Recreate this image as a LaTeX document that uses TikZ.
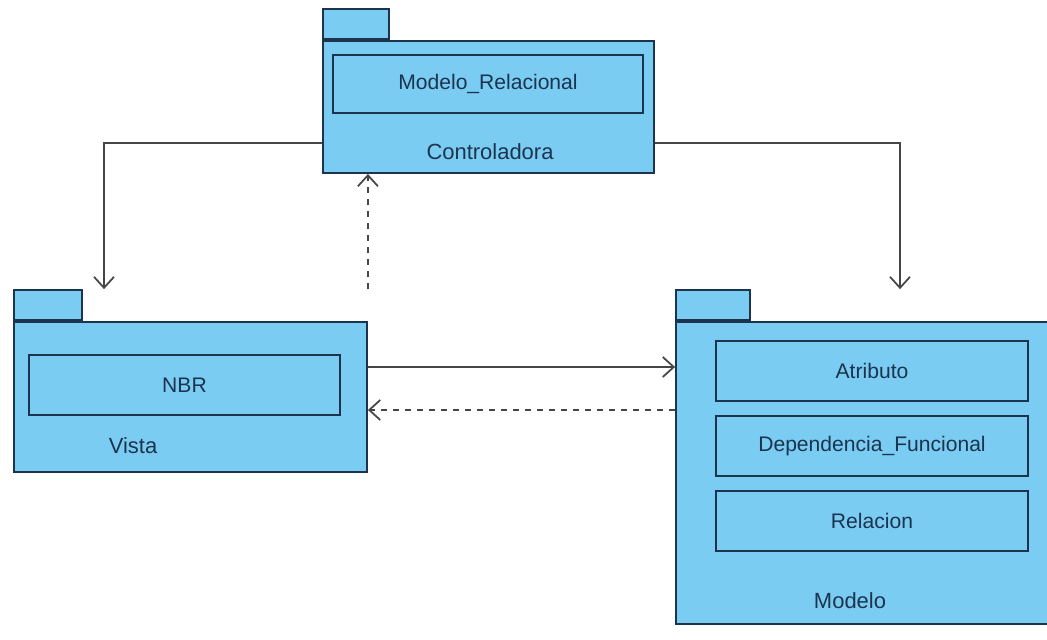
\documentclass[tikz,border=0pt]{standalone}
\usepackage{fontspec}
\setmainfont{Liberation Sans}
\usepackage{tikz}
\usetikzlibrary{arrows.meta}
\definecolor{pkgblue}{RGB}{122,204,242}
\definecolor{pkgline}{RGB}{28,52,78}
\definecolor{linkgray}{RGB}{70,70,70}

\begin{document}
\begin{tikzpicture}[
  x=0.02cm, y=-0.02cm,
  pkgbody/.style={draw=pkgline, fill=pkgblue, line width=1.1pt, inner sep=0pt},
  pkgtab/.style={pkgbody, minimum height=0.6cm, anchor=south west},
  pkgmember/.style={draw=pkgline, line width=1.1pt, inner sep=0pt,
    minimum width=6.22cm, minimum height=1.2cm,
    text=pkgline, font=\fontsize{12}{14}\selectfont},
  pkglabel/.style={text=pkgline, font=\fontsize{12.5}{14}\selectfont},
  link/.style={draw=linkgray, line width=1pt,
    -{Straight Barb[length=2.2mm,width=4mm]}},
  depend/.style={link, dash pattern=on 1.2mm off 1.2mm},
  ]
  \clip (0,0) rectangle (1047,639);

  % Controladora
  \node[pkgbody, minimum width=6.62cm, minimum height=2.64cm] (ctrl) at (488.5,107) {};
  \node[pkgtab, minimum width=1.32cm] (ctab) at (ctrl.north west) {};
  \node[pkgmember, minimum width=6.2cm, minimum height=1.16cm] (mrel) at (488,84) {Modelo\_Relacional};
  \node[pkglabel] (ctrlname) at (490,152) {Controladora};

  % Vista
  \node[pkgbody, minimum width=7.06cm, minimum height=3cm] (vista) at (190.5,397) {};
  \node[pkgtab, minimum width=1.36cm] (vtab) at (vista.north west) {};
  \node[pkgmember] (nbr) at (184.5,385) {NBR};
  \node[pkglabel] (vistaname) at (133,446) {Vista};

  % Modelo
  \node[pkgbody, minimum width=7.52cm, minimum height=6.04cm] (modelo) at (864,473) {};
  \node[pkgtab, minimum width=1.48cm] (mtab) at (modelo.north west) {};
  \foreach \name/\yy/\txt in {atr/371/Atributo, dep/446/Dependencia\_Funcional, rel/521/Relacion} {
    \node[pkgmember, minimum width=6.24cm] (\name) at (872,\yy) {\txt};
  }
  \node[pkglabel] (modeloname) at (850,601) {Modelo};

  % connectors
  \coordinate (lk) at (104,143);
  \coordinate (rk) at (900,143);
  \coordinate (ak) at (0,367);
  \coordinate (bk) at (0,410);
  \draw[link] (ctrl.west |- lk) -| (vtab.north -| lk);
  \draw[link] (ctrl.east |- rk) -| (mtab.north -| rk);
  \draw[depend] (vtab.north -| vista.east) -- (ctrl.south -| vista.east);
  \draw[link] (vista.east |- ak) -- (modelo.west |- ak);
  \draw[depend] (modelo.west |- bk) -- (vista.east |- bk);
\end{tikzpicture}
\end{document}
